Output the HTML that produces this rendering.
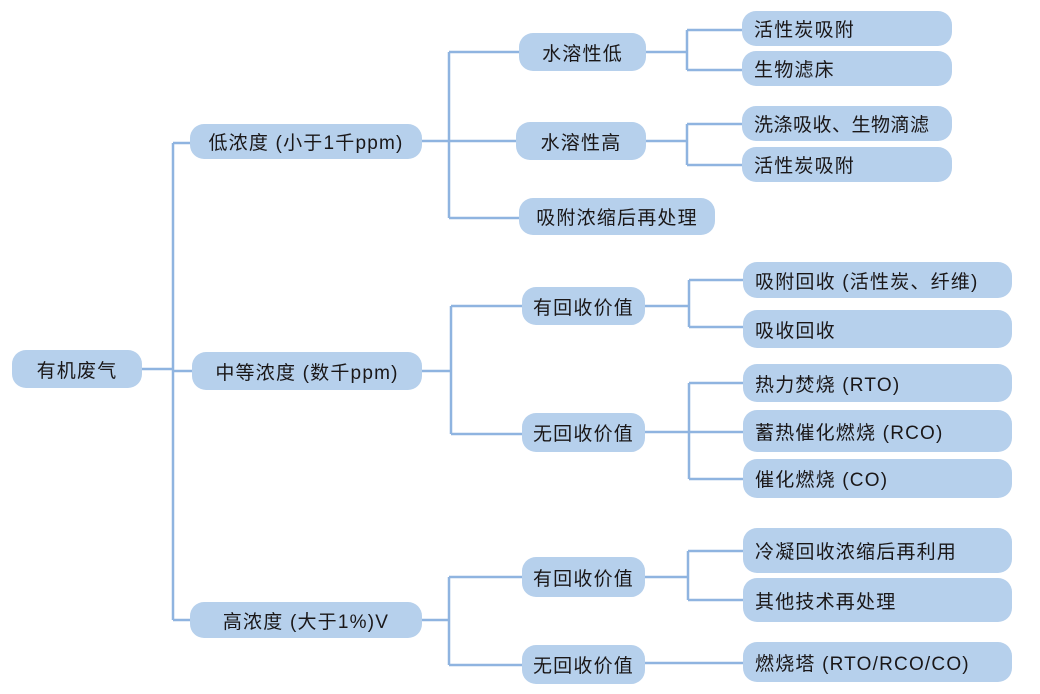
<!DOCTYPE html>
<html><head><meta charset="utf-8"><style>
body{margin:0;width:1040px;height:694px;background:#fff;position:relative;overflow:hidden;font-family:"Liberation Sans","Noto Sans CJK SC",sans-serif;}
.n{position:absolute;background:#b6d0ec;border-radius:14px;color:#1a1718;font-size:19px;letter-spacing:1.2px;display:flex;align-items:center;justify-content:center;white-space:nowrap;box-sizing:border-box;}
.l{justify-content:flex-start;padding-left:12px;}
svg{position:absolute;left:0;top:0;}
</style></head><body>
<svg width="1040" height="694" fill="none" stroke="#8fb4e0" stroke-width="2.5">
<path d="M142 369H173M173 143V620M173 143H190M173 371H192M173 620H190"/>
<path d="M422 141H449M449 52V218M449 52H519M449 141H516M449 218H519"/>
<path d="M646 52H687M687 30V70M687 30H742M687 70H742"/>
<path d="M646 141H687M687 124V165M687 124H742M687 165H742"/>
<path d="M422 371H451M451 306V434M451 306H522M451 434H522"/>
<path d="M645 306H689M689 280V327M689 280H743M689 327H743"/>
<path d="M645 432H689M689 383V479M689 383H743M689 432H743M689 479H743"/>
<path d="M422 620H449M449 577V665M449 577H522M449 665H522"/>
<path d="M645 577H688M688 551V600M688 551H743M688 600H743"/>
<path d="M645 663H743"/>
</svg>
<div class="n" style="left:12px;top:350px;width:130px;height:38px">有机废气</div>
<div class="n" style="left:190px;top:124px;width:232px;height:35px">低浓度 (小于1千ppm)</div>
<div class="n" style="left:192px;top:352px;width:230px;height:38px">中等浓度 (数千ppm)</div>
<div class="n" style="left:190px;top:602px;width:232px;height:36px">高浓度 (大于1%)V</div>
<div class="n" style="left:519px;top:33px;width:127px;height:38px">水溶性低</div>
<div class="n" style="left:516px;top:122px;width:130px;height:38px">水溶性高</div>
<div class="n" style="left:519px;top:198px;width:196px;height:37px">吸附浓缩后再处理</div>
<div class="n l" style="left:742px;top:11px;width:210px;height:35px">活性炭吸附</div>
<div class="n l" style="left:742px;top:51px;width:210px;height:35px">生物滤床</div>
<div class="n l" style="left:742px;top:106px;width:210px;height:35px;letter-spacing:0.5px">洗涤吸收、生物滴滤</div>
<div class="n l" style="left:742px;top:147px;width:210px;height:35px">活性炭吸附</div>
<div class="n" style="left:522px;top:287px;width:123px;height:38px">有回收价值</div>
<div class="n" style="left:522px;top:413px;width:123px;height:39px">无回收价值</div>
<div class="n l" style="left:743px;top:262px;width:269px;height:36px">吸附回收 (活性炭、纤维)</div>
<div class="n l" style="left:743px;top:310px;width:269px;height:38px">吸收回收</div>
<div class="n l" style="left:743px;top:364px;width:269px;height:38px">热力焚烧 (RTO)</div>
<div class="n l" style="left:743px;top:410px;width:269px;height:42px">蓄热催化燃烧 (RCO)</div>
<div class="n l" style="left:743px;top:459px;width:269px;height:39px">催化燃烧 (CO)</div>
<div class="n" style="left:522px;top:557px;width:123px;height:40px">有回收价值</div>
<div class="n" style="left:522px;top:645px;width:123px;height:39px">无回收价值</div>
<div class="n l" style="left:743px;top:528px;width:269px;height:45px">冷凝回收浓缩后再利用</div>
<div class="n l" style="left:743px;top:578px;width:269px;height:44px">其他技术再处理</div>
<div class="n l" style="left:743px;top:642px;width:269px;height:40px">燃烧塔 (RTO/RCO/CO)</div>
</body></html>
